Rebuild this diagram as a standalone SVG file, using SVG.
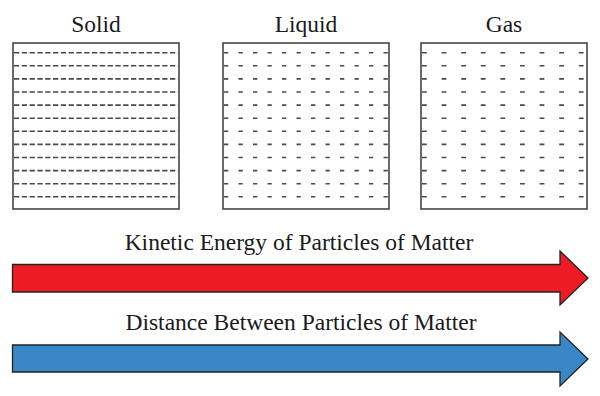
<svg xmlns="http://www.w3.org/2000/svg" width="600" height="396" viewBox="0 0 600 396">
<style>
.lbl{font-family:"Liberation Serif","Times New Roman",serif;font-size:23.5px;fill:#1a1a1a;text-anchor:middle}
.box{fill:#fff;stroke:#3a3a3a;stroke-width:1.5}
.ds{stroke:#4a4a4a;stroke-width:1.6;stroke-dasharray:5.3 2.5}
.dl{stroke:#4a4a4a;stroke-width:1.6;stroke-dasharray:4.3 10.2}
.dg{stroke:#4a4a4a;stroke-width:1.6;stroke-dasharray:4.8 14.8}
.arr{stroke:#222;stroke-width:1.3;stroke-linejoin:miter}
</style>
<rect width="600" height="396" fill="#fff"/>
<g id="solid">
<text class="lbl" x="96" y="32">Solid</text>
<rect class="box" x="13" y="43" width="166" height="166"/>
<g class="ds">
<line x1="14" y1="52.7" x2="178" y2="52.7"/>
<line x1="14" y1="65.8" x2="178" y2="65.8"/>
<line x1="14" y1="78.9" x2="178" y2="78.9"/>
<line x1="14" y1="92" x2="178" y2="92"/>
<line x1="14" y1="105.1" x2="178" y2="105.1"/>
<line x1="14" y1="118.2" x2="178" y2="118.2"/>
<line x1="14" y1="131.3" x2="178" y2="131.3"/>
<line x1="14" y1="144.4" x2="178" y2="144.4"/>
<line x1="14" y1="157.5" x2="178" y2="157.5"/>
<line x1="14" y1="170.6" x2="178" y2="170.6"/>
<line x1="14" y1="183.7" x2="178" y2="183.7"/>
<line x1="14" y1="196.8" x2="178" y2="196.8"/>
</g>
</g>
<g id="liquid">
<text class="lbl" x="306" y="32">Liquid</text>
<rect class="box" x="223" y="43" width="166" height="166"/>
<g class="dl">
<line x1="224" y1="52.7" x2="388" y2="52.7"/>
<line x1="224" y1="65.8" x2="388" y2="65.8"/>
<line x1="224" y1="78.9" x2="388" y2="78.9"/>
<line x1="224" y1="92" x2="388" y2="92"/>
<line x1="224" y1="105.1" x2="388" y2="105.1"/>
<line x1="224" y1="118.2" x2="388" y2="118.2"/>
<line x1="224" y1="131.3" x2="388" y2="131.3"/>
<line x1="224" y1="144.4" x2="388" y2="144.4"/>
<line x1="224" y1="157.5" x2="388" y2="157.5"/>
<line x1="224" y1="170.6" x2="388" y2="170.6"/>
<line x1="224" y1="183.7" x2="388" y2="183.7"/>
<line x1="224" y1="196.8" x2="388" y2="196.8"/>
</g>
</g>
<g id="gas">
<text class="lbl" x="504" y="32">Gas</text>
<rect class="box" x="421" y="43" width="166" height="166"/>
<g class="dg">
<line x1="422" y1="52.7" x2="586" y2="52.7"/>
<line x1="422" y1="65.8" x2="586" y2="65.8"/>
<line x1="422" y1="78.9" x2="586" y2="78.9"/>
<line x1="422" y1="92" x2="586" y2="92"/>
<line x1="422" y1="105.1" x2="586" y2="105.1"/>
<line x1="422" y1="118.2" x2="586" y2="118.2"/>
<line x1="422" y1="131.3" x2="586" y2="131.3"/>
<line x1="422" y1="144.4" x2="586" y2="144.4"/>
<line x1="422" y1="157.5" x2="586" y2="157.5"/>
<line x1="422" y1="170.6" x2="586" y2="170.6"/>
<line x1="422" y1="183.7" x2="586" y2="183.7"/>
<line x1="422" y1="196.8" x2="586" y2="196.8"/>
</g>
</g>
<g id="kinetic-energy">
<text class="lbl" x="299" y="250">Kinetic Energy of Particles of Matter</text>
<polygon class="arr" fill="#ed1c24" points="12.5,264.5 560,264.5 560,251 588,278 560,305 560,292 12.5,292"/>
</g>
<g id="distance">
<text class="lbl" x="301" y="330">Distance Between Particles of Matter</text>
<polygon class="arr" fill="#3a87c8" points="12.5,345 560,345 560,332 588,359 560,386 560,372 12.5,372"/>
</g>
</svg>
